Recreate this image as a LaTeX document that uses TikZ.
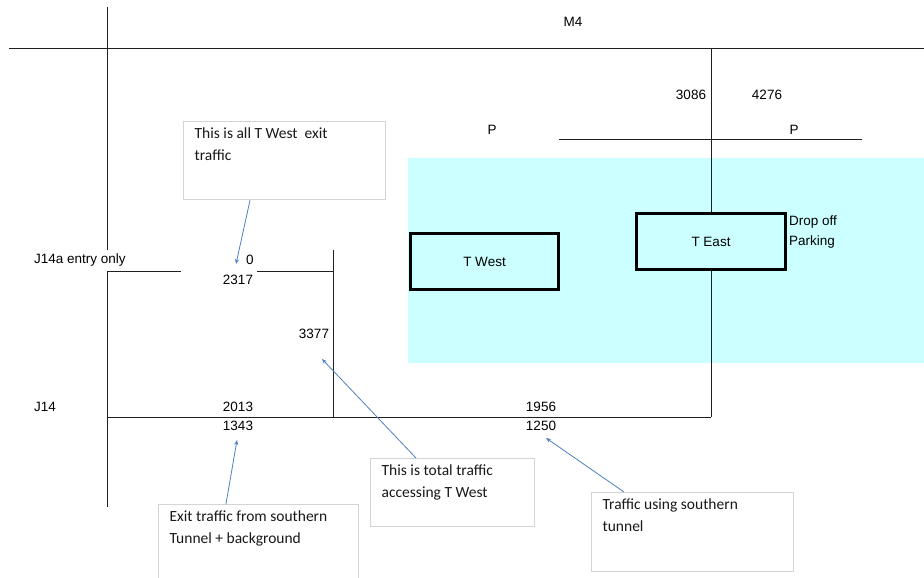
\documentclass[tikz,border=0pt]{standalone}
\usepackage{fontspec}
\setmainfont{Liberation Sans}
\newfontfamily\calloutfont{Carlito}
\usetikzlibrary{arrows.meta}
\definecolor{zone}{HTML}{CCFFFF}
\definecolor{callgray}{HTML}{D4D4D4}
\definecolor{arrowblue}{HTML}{4F81BD}
\definecolor{roadgray}{HTML}{202020}

\begin{document}
\begin{tikzpicture}[x=1pt,y=-1pt,
  road/.style={draw=roadgray, line width=1pt},
  lbl/.style={inner sep=0pt, font=\fontsize{13.5}{15}\selectfont},
  term/.style={draw=black, line width=2.6pt, fill=zone, minimum height=56pt,
               inner sep=0pt, font=\fontsize{13.5}{15}\selectfont},
  callout/.style={draw=callgray, line width=1.3pt, fill=white, anchor=north west,
                  inner xsep=11pt, inner ysep=6pt, text=black!90,
                  font=\calloutfont\fontsize{15.5}{22}\selectfont},
  pointer/.style={draw=arrowblue, line width=0.8pt, -{Stealth[length=5pt,width=4pt]}}
]
\useasboundingbox (0,0) rectangle (924,578);
\clip (0,0) rectangle (924,578);
\fill[white] (0,0) rectangle (924,578);

% terminal zone
\fill[zone] (408,158) rectangle (924,363);

% roads
\draw[road] (9,49) -- (924,49);
\draw[road] (107,7) -- (107,250);
\draw[road] (107,272) -- (107,507);
\draw[road] (107,271) -- (181,271);
\draw[road] (257,271) -- (333,271);
\draw[road] (333,250) -- (333,417);
\draw[road] (107,417) -- (711,417);
\draw[road] (711,49) -- (711,417);
\draw[road] (559,139) -- (862,139);

% terminals
\node[term, minimum width=148pt] (tw) at (484.5,261.5) {T West};
\node[term, minimum width=149pt] (te) at (711,241.5) {T East};

% labels
\node[lbl] (m4) at (573,22) {M4};
\node[lbl] (n3086) at (691,95) {3086};
\node[lbl] (n4276) at (767,95) {4276};
\node[lbl] (pl) at (492,130) {P};
\node[lbl] (pr) at (794,130) {P};
\node[lbl, anchor=west, align=left, font=\fontsize{13.5}{20}\selectfont] (drop) at (789,232) {Drop off\\Parking};
\node[lbl, anchor=west] (j14a) at (34,260) {J14a entry only};
\node[lbl] (n0) at (250,260) {0};
\node[lbl] (n2317) at (238,280) {2317};
\node[lbl] (n3377) at (314,334) {3377};
\node[lbl, anchor=west] (j14) at (34,407) {J14};
\node[lbl] (n2013) at (238,407) {2013};
\node[lbl] (n1343) at (238,426) {1343};
\node[lbl] (n1956) at (541,407) {1956};
\node[lbl] (n1250) at (541,426) {1250};

% callouts
\node[callout] (c1) at (183,121) {\parbox[c][66pt][t]{180pt}{This is all T West\ \ exit\\traffic}};
\node[callout] (c2) at (158,504) {\parbox[c][80pt][t]{178pt}{Exit traffic from southern\\Tunnel + background}};
\node[callout] (c3) at (370,458) {\parbox[c][56pt][t]{142pt}{This is total traffic\\accessing T West}};
\node[callout] (c4) at (591,492) {\parbox[c][67pt][t]{180pt}{Traffic using southern\\tunnel}};

% pointer targets
\coordinate (t1) at (236,264);
\coordinate (t2) at (237,440);
\coordinate (t3) at (322,359);
\coordinate (t4) at (546,438);

\draw[pointer] ([xshift=67pt]c1.south west) -- (t1);
\draw[pointer] ([xshift=68pt]c2.north west) -- (t2);
\draw[pointer] ([xshift=46pt]c3.north west) -- (t3);
\draw[pointer] ([xshift=33pt]c4.north west) -- (t4);
\end{tikzpicture}
\end{document}
